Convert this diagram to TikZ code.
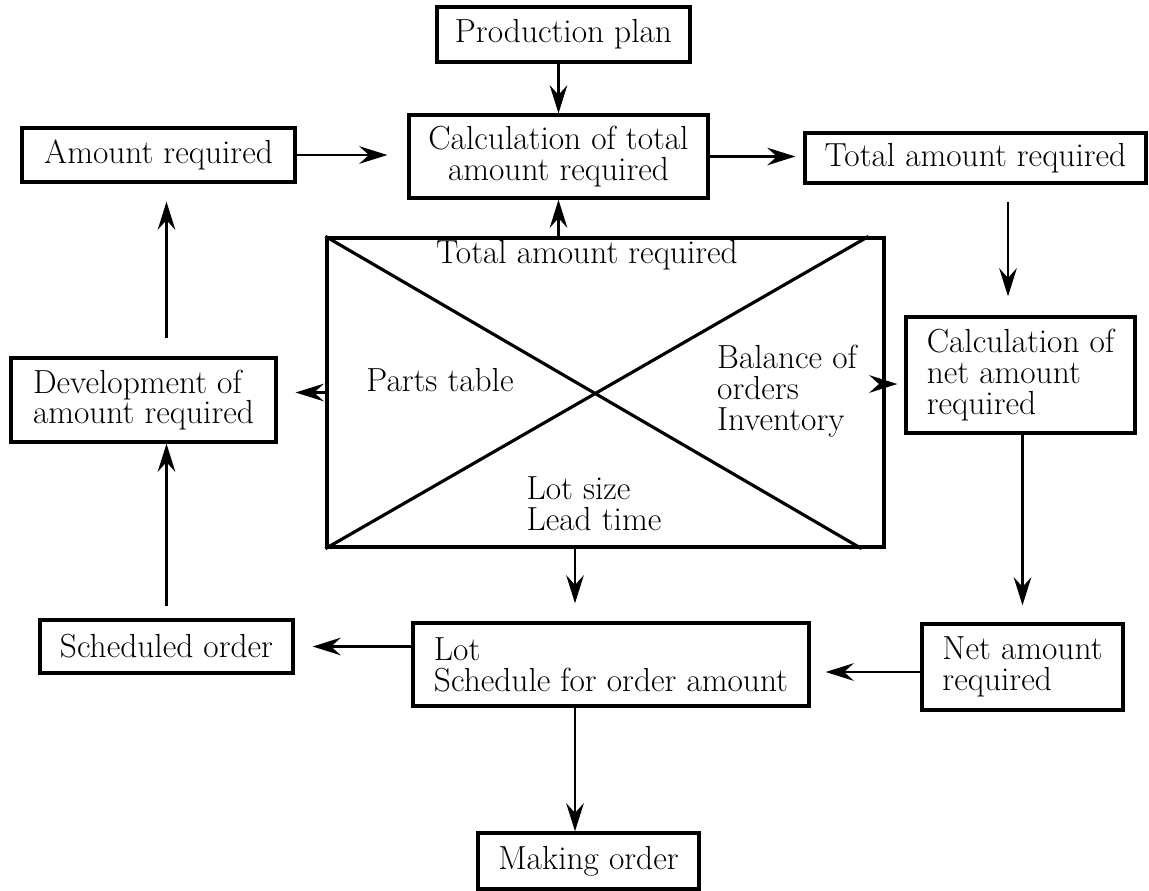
\documentclass[tikz,border=0pt]{standalone}
\usepackage{tikz}
\usetikzlibrary{arrows.meta}

\tikzset{
  box/.style={draw,line width=1.9pt,inner sep=4pt,font=\fontsize{19}{17.5}\selectfont},
  txt/.style={inner sep=0pt,font=\fontsize{19}{17.5}\selectfont},
  arr/.style={-{Stealth[length=16pt,width=10pt,inset=5.5pt]},line width=1.4pt}
}

\begin{document}
\begin{tikzpicture}[x=0.02cm,y=-0.02cm]
\useasboundingbox (0,0) rectangle (1149,890);
\node[box,minimum width=5.06cm,minimum height=1.10cm] (prodplan) at (563.5,34.5) {Production plan};
\node[box,align=center,minimum width=5.98cm,minimum height=1.66cm] (calctotal) at (558.5,156.5) {Calculation of total\\amount required};
\node[box,minimum width=5.46cm,minimum height=1.08cm] (amtreq) at (158.5,155) {Amount required};
\node[box,minimum width=6.82cm,minimum height=1.00cm] (totalreq) at (975.5,158) {Total amount required};
\node[box,align=left,minimum width=5.30cm,minimum height=1.68cm] (develop) at (143.5,400) {Development of\\amount required};
\node[box,minimum width=11.14cm,minimum height=6.18cm] (bigbox) at (605.5,392.5) {};
\node[box,align=left,minimum width=4.58cm,minimum height=2.32cm] (calcnet) at (1020.5,375) {Calculation of\\net amount\\required};
\node[box,align=left,minimum width=7.92cm,minimum height=1.66cm] (lot) at (611,664.5) {Lot\\Schedule for order amount};
\node[box,minimum width=5.06cm,minimum height=1.06cm] (sched) at (166.5,646.5) {Scheduled order};
\node[box,align=left,minimum width=4.02cm,minimum height=1.72cm] (netreq) at (1022.5,667) {Net amount\\required};
\node[box,minimum width=4.42cm,minimum height=1.12cm] (making) at (588.5,861) {Making order};

% the crossed table
\draw[line width=1.8pt] (bigbox.north west) -- ([xshift=-0.48cm]bigbox.south east);
\draw[line width=1.8pt] (bigbox.south west) -- ([xshift=-0.34cm]bigbox.north east);
\node[txt] (totin) at (587,255) {Total amount required};
\node[txt] (parts) at (440,380) {Parts table};
\node[txt,align=left] (balance) at (787,391) {Balance of\\orders\\Inventory};
\node[txt,align=left] (lotsize) at (594,504) {Lot size\\Lead time};

\coordinate (netin) at ([xshift=-0.25cm]calcnet.north);
\coordinate (balout) at ([yshift=0.17cm]bigbox.east);
\coordinate (netout) at ([yshift=-0.1cm]netreq.west);
\coordinate (lotin) at ([xshift=-0.72cm]lot.north);

\draw[arr] (prodplan.south -| calctotal.north) -- (calctotal.north);
\draw[arr] (bigbox.north -| calctotal.south) -- (calctotal.south);
\draw[arr,shorten >=0.4cm] (amtreq.east) -- (amtreq.east -| calctotal.west);
\draw[arr,shorten >=0.16cm] (calctotal.east) -- (calctotal.east -| totalreq.west);
\draw[arr,shorten <=0.34cm,shorten >=0.38cm] (totalreq.south -| netin) -- (netin);
\draw[arr,shorten >=0.14cm] (balout) -- (balout -| calcnet.west);
\draw[arr,shorten >=0.34cm] (netreq.north |- calcnet.south) -- (netreq.north);
\draw[arr,shorten >=0.3cm] (netout) -- (netout -| lot.east);
\draw[arr,shorten >=0.36cm] (lot.west |- sched.east) -- (sched.east);
\draw[arr,shorten <=0.24cm] (sched.north) -- (sched.north |- develop.south);
\draw[arr,shorten <=0.36cm,shorten >=0.36cm] (develop.north -| sched.north) -- (amtreq.south -| sched.north);
\draw[arr,shorten >=0.36cm] (bigbox.west) -- (bigbox.west -| develop.east);
\draw[arr,shorten >=0.36cm] (bigbox.south -| lotin) -- (lotin);
\draw[arr] (lot.south -| lotin) -- (making.north -| lotin);
\end{tikzpicture}
\end{document}
